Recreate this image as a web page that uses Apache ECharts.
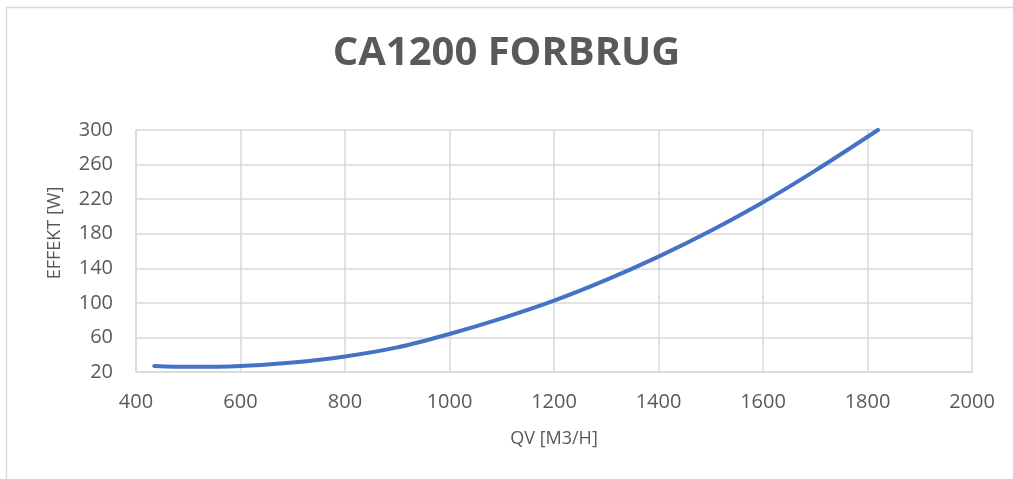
<!DOCTYPE html>
<html>
<head>
<meta charset="utf-8">
<style>
  html, body { margin: 0; padding: 0; background: #fff; }
  #chart { width: 1013px; height: 479px; }
</style>
<script src="https://cdn.jsdelivr.net/npm/echarts@6/dist/echarts.min.js"></script>
</head>
<body>
<div id="chart"></div>
<script>
// Luftmængde [m3/h] og effekt [W] aflæst fra kurven
const qv = [435, 500, 600, 700, 800, 900, 1000, 1100, 1200, 1300, 1400, 1500, 1600, 1700, 1820];
const effekt = [27, 26, 27, 31, 38, 48.5, 64, 82, 102.5, 126.5, 153.5, 183.5, 216.5, 253, 300];

const chart = echarts.init(document.getElementById('chart'), null, { renderer: 'canvas' });

const grey = '#595959';
const gridGrey = '#d9d9d9';
const font = '"Open Sans", sans-serif';

chart.setOption({
    animation: false,
    title: {
        text: 'CA1200 FORBRUG',
        left: 'center',
        top: 29,
        textStyle: { fontFamily: font, fontSize: 40, fontWeight: 'bold', color: grey }
    },
    graphic: [{
        type: 'rect',
        shape: { x: 6.5, y: 7.5, width: 1020, height: 480 },
        style: { fill: 'none', stroke: gridGrey, lineWidth: 1.5 },
        silent: true
    }],
    grid: { left: 136, right: 41, top: 130, bottom: 107 },
    xAxis: {
        type: 'value',
        min: 400, max: 2000, interval: 200,
        name: 'QV [M3/H]',
        nameLocation: 'middle',
        nameGap: 58,
        nameTextStyle: { fontFamily: font, fontSize: 18, color: grey },
        axisLine: { show: true, lineStyle: { color: gridGrey, width: 1.5 } },
        axisTick: { show: false },
        axisLabel: { fontFamily: font, fontSize: 20, color: grey, margin: 20, formatter: (v) => String(v) },
        splitLine: { show: true, lineStyle: { color: gridGrey, width: 1.5 } }
    },
    yAxis: {
        type: 'value',
        min: 20, max: 300, interval: 40,
        name: 'EFFEKT [W]',
        nameLocation: 'middle',
        nameGap: 72,
        nameTextStyle: { fontFamily: font, fontSize: 18, color: grey, padding: [0, 0, 0, 36] },
        axisLine: { show: true, lineStyle: { color: gridGrey, width: 1.5 } },
        axisTick: { show: false },
        axisLabel: { fontFamily: font, fontSize: 20, color: grey, margin: 23 },
        splitLine: { show: true, lineStyle: { color: gridGrey, width: 1.5 } }
    },
    series: [{
        type: 'line',
        data: qv.map((x, i) => [x, effekt[i]]),
        smooth: 0.3,
        showSymbol: false,
        lineStyle: { color: '#4472C4', width: 4, cap: 'round' }
    }]
});
</script>
</body>
</html>
